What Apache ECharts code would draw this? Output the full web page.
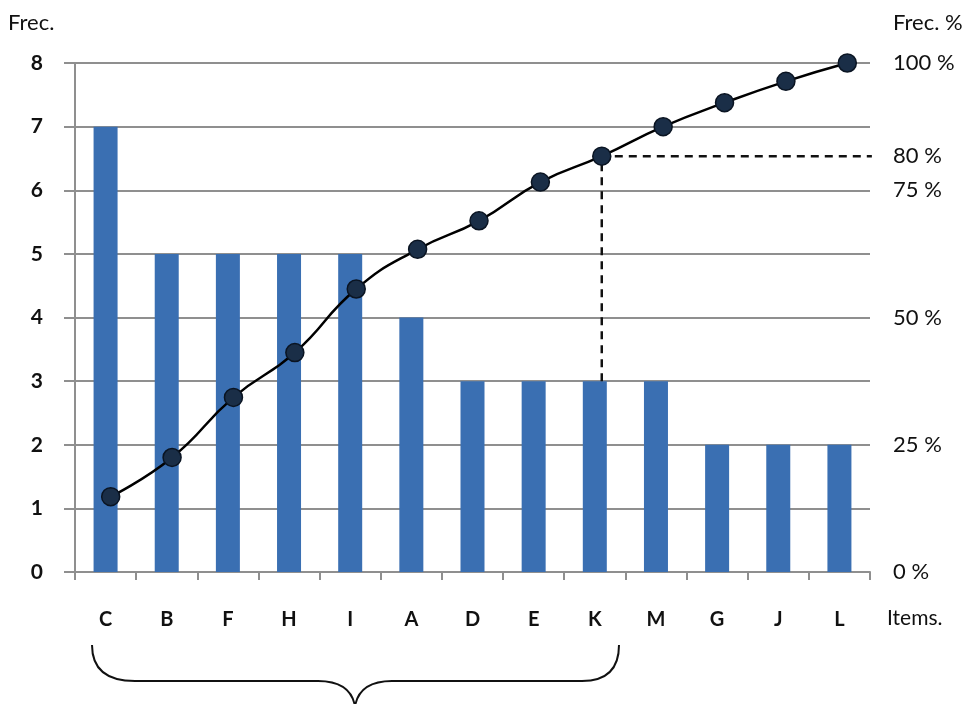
<!DOCTYPE html>
<html>
<head>
<meta charset="utf-8">
<title>Pareto – Frec.</title>
<script src="https://cdn.jsdelivr.net/npm/echarts@6/dist/echarts.min.js"></script>
<style>
  html, body { margin: 0; padding: 0; background: #ffffff; }
  #chart { width: 971px; height: 704px; }
</style>
</head>
<body>
<div id="chart"></div>
<script>
// Items sorted by frequency, with their counts and cumulative percentage
const categories = ['C', 'B', 'F', 'H', 'I', 'A', 'D', 'E', 'K', 'M', 'G', 'J', 'L'];
const frequency = [7, 5, 5, 5, 5, 4, 3, 3, 3, 3, 2, 2, 2];
const cumulativePct = [14.8, 22.5, 34.3, 43.1, 55.6, 63.4, 69.0, 76.6, 81.7, 87.5, 92.2, 96.4, 100];
const pctTicks = [0, 25, 50, 75, 100];
const cutLabel = '80 %';
const cutItem = 'K';

const FREQ_MAX = 8;
const cutIdx = categories.indexOf(cutItem);
const cutPct = cumulativePct[cutIdx];
const cutBarPct = frequency[cutIdx] / FREQ_MAX * 100;
const lastEdge = categories.length - 0.5;

const FONT = 'Lato, "Open Sans", sans-serif';
const GRID_COLOR = '#8f8f8f';

// curly brace under the first group of items, built from curve pieces
const braceStyle = { stroke: '#111', lineWidth: 2, fill: 'none' };
const brace = [
  { type: 'bezierCurve', shape: { x1: 92, y1: 645, cpx1: 92, cpy1: 668, cpx2: 105, cpy2: 681, x2: 135, y2: 681 }, style: braceStyle },
  { type: 'line', shape: { x1: 135, y1: 681, x2: 318, y2: 681 }, style: braceStyle },
  { type: 'bezierCurve', shape: { x1: 318, y1: 681, cpx1: 340, cpy1: 681, cpx2: 352, cpy2: 690, x2: 355, y2: 706 }, style: braceStyle },
  { type: 'bezierCurve', shape: { x1: 355, y1: 706, cpx1: 358, cpy1: 690, cpx2: 370, cpy2: 681, x2: 392, y2: 681 }, style: braceStyle },
  { type: 'line', shape: { x1: 392, y1: 681, x2: 582, y2: 681 }, style: braceStyle },
  { type: 'bezierCurve', shape: { x1: 582, y1: 681, cpx1: 608, cpy1: 681, cpx2: 619, cpy2: 668, x2: 619, y2: 645 }, style: braceStyle }
];

// right-hand labels: the quarter marks plus the cut-off level of the guide line
const rightLabelValues = pctTicks.concat([cutPct]).sort((a, b) => a - b);

const chart = echarts.init(document.getElementById('chart'), null, { renderer: 'canvas' });

chart.setOption({
  backgroundColor: '#ffffff',
  animation: false,
  grid: [
    { left: 75, right: 101, top: 63, bottom: 132 },
    { left: 80, right: 93, top: 63, bottom: 132 }
  ],
  xAxis: [
    {
      type: 'category',
      gridIndex: 0,
      data: categories,
      axisLine: { lineStyle: { color: GRID_COLOR, width: 2 } },
      axisTick: { show: true, length: 8, alignWithLabel: false, lineStyle: { color: GRID_COLOR, width: 2 } },
      axisLabel: { margin: 38, color: '#111', fontFamily: FONT, fontWeight: 'bold', fontSize: 20 }
    },
    {
      type: 'category',
      gridIndex: 1,
      data: categories,
      show: false
    },
    {
      // index scale over the same bands, for the 80 % guide lines
      type: 'value',
      gridIndex: 1,
      min: -0.5,
      max: lastEdge,
      show: false
    }
  ],
  yAxis: [
    {
      type: 'value',
      gridIndex: 0,
      min: 0,
      max: FREQ_MAX,
      interval: 1,
      axisLine: { show: true, lineStyle: { color: GRID_COLOR, width: 2 } },
      axisTick: { show: true, length: 11, lineStyle: { color: GRID_COLOR, width: 2 } },
      splitLine: { show: true, lineStyle: { color: GRID_COLOR, width: 2 } },
      axisLabel: { margin: 32, color: '#111', fontFamily: FONT, fontWeight: 'bold', fontSize: 21 }
    },
    {
      type: 'value',
      gridIndex: 1,
      position: 'right',
      min: 0,
      max: 100,
      axisLine: { show: false },
      axisTick: { show: false },
      splitLine: { show: false },
      axisLabel: {
        margin: 15,
        color: '#111',
        fontFamily: FONT,
        fontSize: 22,
        customValues: rightLabelValues,
        formatter: v => (v === cutPct ? cutLabel : v + ' %')
      }
    }
  ],
  series: [
    {
      name: 'Frec.',
      type: 'bar',
      xAxisIndex: 0,
      yAxisIndex: 0,
      data: frequency,
      barWidth: 24,
      itemStyle: { color: '#3a6fb2' },
      z: 2
    },
    {
      name: 'guide',
      type: 'line',
      xAxisIndex: 2,
      yAxisIndex: 1,
      data: [[cutIdx, cutBarPct], [cutIdx, cutPct], [lastEdge - 0.1, cutPct]],
      symbol: 'none',
      silent: true,
      lineStyle: { color: '#111111', width: 2.5, type: [8, 6] },
      z: 3
    },
    {
      name: 'Frec. %',
      type: 'line',
      xAxisIndex: 1,
      yAxisIndex: 1,
      data: cumulativePct,
      smooth: 0.5,
      symbol: 'circle',
      symbolSize: 18,
      lineStyle: { color: '#000000', width: 2.5 },
      itemStyle: { color: '#1a2e47', borderColor: '#0a1422', borderWidth: 1.5 },
      z: 5
    }
  ],
  graphic: [
    { type: 'text', left: 8, top: 12, style: { text: 'Frec.', font: '22px ' + FONT, fill: '#111' } },
    { type: 'text', left: 893, top: 12, style: { text: 'Frec. %', font: '22px ' + FONT, fill: '#111' } },
    { type: 'text', left: 887, top: 608, style: { text: 'Items.', font: '21px ' + FONT, fill: '#111' } }
  ].concat(brace)
});
</script>
</body>
</html>
